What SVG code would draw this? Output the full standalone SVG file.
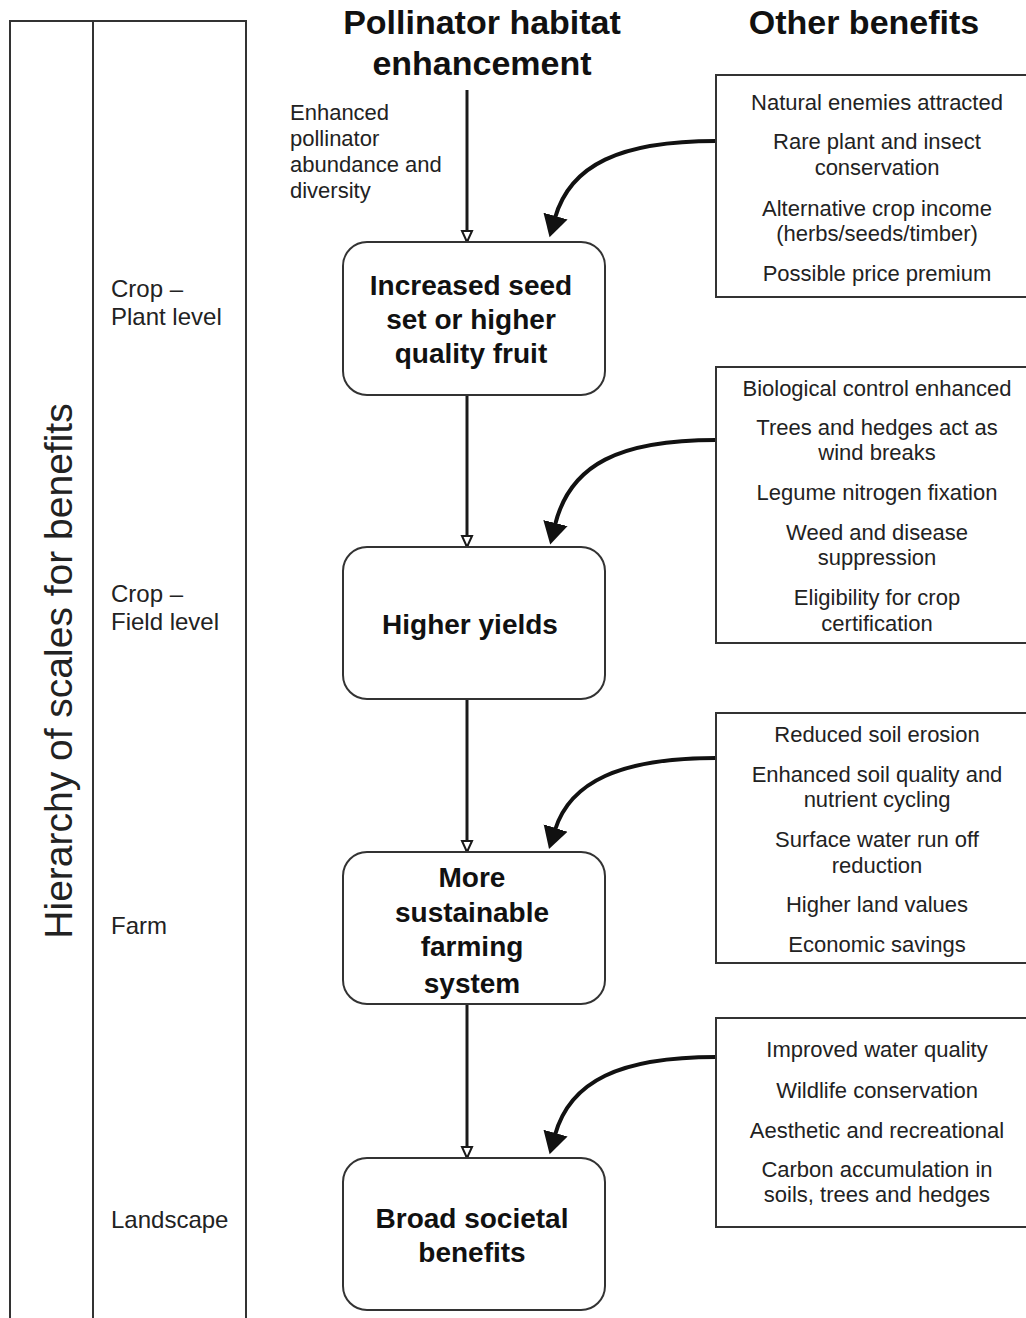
<svg xmlns="http://www.w3.org/2000/svg" width="1026" height="1318" viewBox="0 0 1026 1318">
  <style>
    text { font-family: "Liberation Sans", Arial, Helvetica, sans-serif; fill: #222; }
    .title { font-size: 34px; font-weight: bold; fill: #111; text-anchor: middle; }
    .main { font-size: 28px; font-weight: bold; fill: #111; text-anchor: middle; }
    .ben { font-size: 22px; text-anchor: middle; }
    .lvl { font-size: 24px; }
    .note { font-size: 22px; }
    .vert { font-size: 39px; text-anchor: middle; }
    .frame { fill: none; stroke: #333; stroke-width: 2; }
    .nodebox { fill: #fff; stroke: #333; stroke-width: 2; }
    .benbox { fill: #fff; stroke: #333; stroke-width: 2; }
    .vline { fill: none; stroke: #1a1a1a; stroke-width: 3; marker-end: url(#smallHead); }
    .curve { fill: none; stroke: #111; stroke-width: 4; marker-end: url(#bigHead); }
  </style>
  <defs>
    <marker id="smallHead" markerUnits="userSpaceOnUse" viewBox="-1 -7 13 14" refX="11" refY="0" markerWidth="13" markerHeight="14" orient="auto">
      <path d="M0,-5 L11,0 L0,5 Z" fill="#fff" stroke="#1a1a1a" stroke-width="2" stroke-linejoin="miter"/>
    </marker>
    <marker id="bigHead" markerUnits="userSpaceOnUse" viewBox="0 -13 24 26" refX="2" refY="0" markerWidth="24" markerHeight="26" orient="auto">
      <path d="M0,-12.5 L22,0 L0,12.5 Z" fill="#111"/>
    </marker>
  </defs>

  <rect width="1026" height="1318" fill="#fff"/>

  <g id="scale-frame">
    <path class="frame" d="M10,1318 V21 H246 V1318 M93,21 V1318"/>
    <text class="vert" transform="translate(72,671) rotate(-90)">Hierarchy of scales for benefits</text>
  </g>

  <g id="level-crop-plant">
    <text class="lvl" x="111" y="297">Crop –</text>
    <text class="lvl" x="111" y="325">Plant level</text>
  </g>
  <g id="level-crop-field">
    <text class="lvl" x="111" y="602">Crop –</text>
    <text class="lvl" x="111" y="630">Field level</text>
  </g>
  <g id="level-farm">
    <text class="lvl" x="111" y="934">Farm</text>
  </g>
  <g id="level-landscape">
    <text class="lvl" x="111" y="1228">Landscape</text>
  </g>

  <g id="title-pollinator">
    <text class="title" x="482" y="34">Pollinator habitat</text>
    <text class="title" x="482" y="75">enhancement</text>
  </g>
  <g id="title-other">
    <text class="title" x="864" y="34">Other benefits</text>
  </g>

  <g id="label-enhanced">
    <text class="note" x="290" y="120">Enhanced</text>
    <text class="note" x="290" y="146">pollinator</text>
    <text class="note" x="290" y="172">abundance and</text>
    <text class="note" x="290" y="198">diversity</text>
  </g>

  <g id="connectors">
    <line class="vline" x1="467" y1="90" x2="467" y2="242"/>
    <line class="vline" x1="467" y1="395" x2="467" y2="547"/>
    <line class="vline" x1="467" y1="699" x2="467" y2="852"/>
    <line class="vline" x1="467" y1="1004" x2="467" y2="1158"/>
    <path class="curve" d="M716,141 C620,141 570,165 555,218"/>
    <path class="curve" d="M716,440 C620,440 570,464 555,525"/>
    <path class="curve" d="M716,758 C620,758 570,782 555,830"/>
    <path class="curve" d="M716,1057 C620,1057 570,1081 555,1135"/>
  </g>

  <g id="node-seed">
    <rect class="nodebox" x="343" y="242" width="262" height="153" rx="24"/>
    <text class="main" x="471" y="295">Increased seed</text>
    <text class="main" x="471" y="329">set or higher</text>
    <text class="main" x="471" y="363">quality fruit</text>
  </g>
  <g id="node-yields">
    <rect class="nodebox" x="343" y="547" width="262" height="152" rx="24"/>
    <text class="main" x="470" y="634">Higher yields</text>
  </g>
  <g id="node-sustainable">
    <rect class="nodebox" x="343" y="852" width="262" height="152" rx="24"/>
    <text class="main" x="472" y="887">More</text>
    <text class="main" x="472" y="922">sustainable</text>
    <text class="main" x="472" y="956">farming</text>
    <text class="main" x="472" y="993">system</text>
  </g>
  <g id="node-societal">
    <rect class="nodebox" x="343" y="1158" width="262" height="152" rx="24"/>
    <text class="main" x="472" y="1228">Broad societal</text>
    <text class="main" x="472" y="1262">benefits</text>
  </g>

  <g id="benefits-plant">
    <rect class="benbox" x="716" y="75" width="320" height="222"/>
    <text class="ben" x="877" y="110">Natural enemies attracted</text>
    <text class="ben" x="877" y="149">Rare plant and insect</text>
    <text class="ben" x="877" y="175">conservation</text>
    <text class="ben" x="877" y="216">Alternative crop income</text>
    <text class="ben" x="877" y="241">(herbs/seeds/timber)</text>
    <text class="ben" x="877" y="281">Possible price premium</text>
  </g>
  <g id="benefits-field">
    <rect class="benbox" x="716" y="367" width="320" height="276"/>
    <text class="ben" x="877" y="396">Biological control enhanced</text>
    <text class="ben" x="877" y="435">Trees and hedges act as</text>
    <text class="ben" x="877" y="460">wind breaks</text>
    <text class="ben" x="877" y="500">Legume nitrogen fixation</text>
    <text class="ben" x="877" y="540">Weed and disease</text>
    <text class="ben" x="877" y="565">suppression</text>
    <text class="ben" x="877" y="605">Eligibility for crop</text>
    <text class="ben" x="877" y="631">certification</text>
  </g>
  <g id="benefits-farm">
    <rect class="benbox" x="716" y="713" width="320" height="250"/>
    <text class="ben" x="877" y="742">Reduced soil erosion</text>
    <text class="ben" x="877" y="782">Enhanced soil quality and</text>
    <text class="ben" x="877" y="807">nutrient cycling</text>
    <text class="ben" x="877" y="847">Surface water run off</text>
    <text class="ben" x="877" y="873">reduction</text>
    <text class="ben" x="877" y="912">Higher land values</text>
    <text class="ben" x="877" y="952">Economic savings</text>
  </g>
  <g id="benefits-landscape">
    <rect class="benbox" x="716" y="1018" width="320" height="209"/>
    <text class="ben" x="877" y="1057">Improved water quality</text>
    <text class="ben" x="877" y="1098">Wildlife conservation</text>
    <text class="ben" x="877" y="1138">Aesthetic and recreational</text>
    <text class="ben" x="877" y="1177">Carbon accumulation in</text>
    <text class="ben" x="877" y="1202">soils, trees and hedges</text>
  </g>
</svg>
